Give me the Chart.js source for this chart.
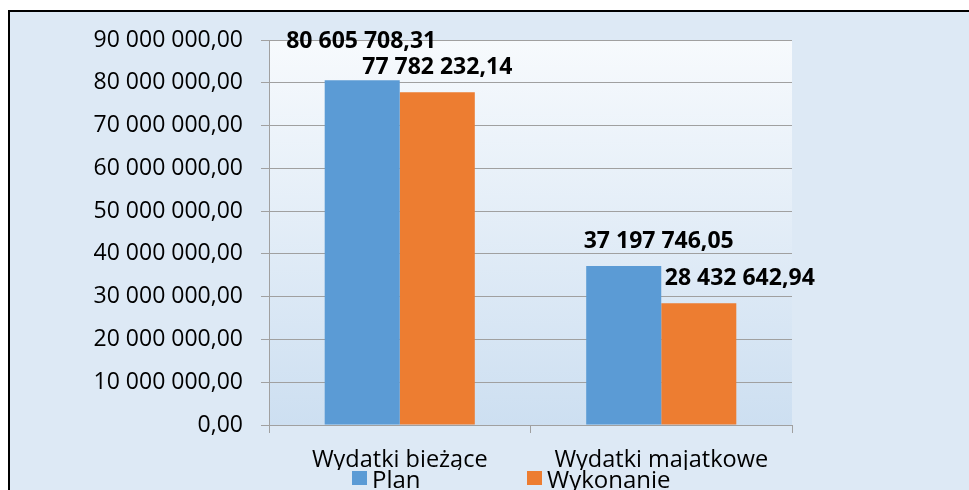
<!DOCTYPE html>
<html lang="pl">
<head>
    <meta charset="UTF-8">
    <title>Wydatki - plan i wykonanie</title>
    <script src="https://cdn.jsdelivr.net/npm/chart.js"></script>
    <style>
        body { margin: 0; background: #fff; overflow: hidden; width: 969px; height: 490px; position: relative; }
        .frame {
            position: absolute; left: 8px; top: 10px; width: 1000px; height: 600px;
            border: 2px solid #000; background: #dde9f5;
        }
        #wrap { position: absolute; left: 0; top: 0; width: 969px; height: 520px; }
    </style>
</head>
<body>
    <div class="frame"></div>
    <div id="wrap"><canvas id="chart"></canvas></div>

    <script>
        // data
        const categories = ['Wydatki bieżące', 'Wydatki majatkowe'];
        const seriesNames = ['Plan', 'Wykonanie'];
        const planValues = [80605708.31, 37197746.05];
        const doneValues = [77782232.14, 28432642.94];
        const yTicks = [0, 10000000, 20000000, 30000000, 40000000, 50000000, 60000000, 70000000, 80000000, 90000000];

        const FONT = "'Open Sans', sans-serif";

        // 80000000 -> "80 000 000,00"
        function fmt(v) {
            const parts = Number(v).toFixed(2).split('.');
            return parts[0].replace(/\B(?=(\d{3})+(?!\d))/g, ' ') + ',' + parts[1];
        }

        // light gradient behind the plot area
        const plotBg = {
            id: 'plotBg',
            beforeDraw(chart) {
                const { ctx, chartArea: a } = chart;
                const g = ctx.createLinearGradient(0, a.top, 0, a.bottom);
                g.addColorStop(0, '#f7fafd');
                g.addColorStop(1, '#cddff1');
                ctx.save();
                ctx.fillStyle = g;
                ctx.fillRect(a.left, a.top, a.right - a.left, a.bottom - a.top);
                ctx.restore();
            }
        };

        // bold value labels above the bars
        const valueLabels = {
            id: 'valueLabels',
            afterDatasetsDraw(chart, args, opts) {
                const ctx = chart.ctx;
                ctx.save();
                ctx.font = 'bold 23px ' + FONT;
                ctx.fillStyle = '#000';
                ctx.textAlign = 'center';
                ctx.textBaseline = 'alphabetic';
                chart.data.datasets.forEach((ds, di) => {
                    chart.getDatasetMeta(di).data.forEach((bar, i) => {
                        const off = opts.offsets[di][i];
                        ctx.fillText(fmt(ds.data[i]), bar.x + off[0], bar.y - off[1]);
                    });
                });
                ctx.restore();
            }
        };

        // legend squeezed under the category labels
        const bottomLegend = {
            id: 'bottomLegend',
            afterDraw(chart, args, opts) {
                const ctx = chart.ctx;
                ctx.save();
                ctx.font = '24px ' + FONT;
                ctx.textBaseline = 'alphabetic';
                chart.data.datasets.forEach((ds, i) => {
                    const x = opts.x[i];
                    ctx.fillStyle = ds.backgroundColor;
                    ctx.fillRect(x, opts.y, 15, 14);
                    ctx.fillStyle = '#000';
                    ctx.fillText(ds.label, x + 20, opts.y + 17);
                });
                ctx.restore();
            }
        };

        new Chart(document.getElementById('chart').getContext('2d'), {
            type: 'bar',
            data: {
                labels: categories,
                datasets: [
                    { label: seriesNames[0], data: planValues, backgroundColor: '#5b9bd5' },
                    { label: seriesNames[1], data: doneValues, backgroundColor: '#ed7d31' }
                ]
            },
            options: {
                responsive: true,
                maintainAspectRatio: false,
                animation: false,
                layout: { padding: { left: 60, right: 177, top: 40, bottom: 50 } },
                datasets: { bar: { categoryPercentage: 0.574, barPercentage: 1 } },
                scales: {
                    x: {
                        grid: { offset: true, drawOnChartArea: false, tickLength: 8, color: '#a0a0a0' },
                        border: { color: '#a0a0a0' },
                        ticks: { color: '#000', font: { family: FONT, size: 23.5 }, padding: 13 },
                        afterFit: s => { s.height = 45; }
                    },
                    y: {
                        min: 0,
                        max: 90000000,
                        afterBuildTicks: s => { s.ticks = yTicks.map(v => ({ value: v })); },
                        ticks: { color: '#000', font: { family: FONT, size: 23 }, padding: 18, callback: v => fmt(v) },
                        grid: { color: '#a0a0a0', tickLength: 8 },
                        border: { color: '#a0a0a0' },
                        afterFit: s => { s.width = 209; }
                    }
                },
                plugins: {
                    legend: { display: false },
                    tooltip: { enabled: false },
                    valueLabels: { offsets: [[[-1, 32], [35, 18]], [[0, 18], [41, 18]]] },
                    bottomLegend: { x: [352, 527], y: 471 }
                }
            },
            plugins: [plotBg, valueLabels, bottomLegend]
        });
    </script>
</body>
</html>
